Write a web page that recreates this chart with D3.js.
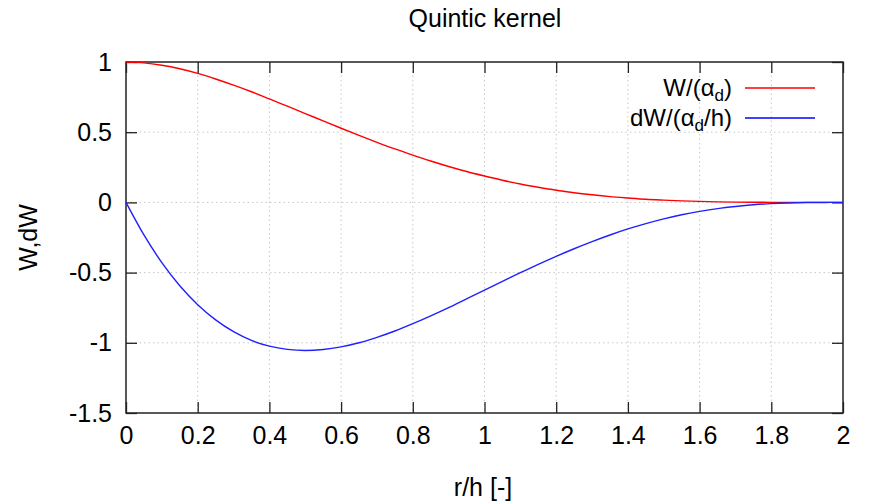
<!DOCTYPE html>
<html>
<head>
<meta charset="utf-8">
<script src="https://cdn.jsdelivr.net/npm/d3@7/dist/d3.min.js"></script>
<style>
  body { margin: 0; background: #fff; }
  text { font-family: "Liberation Sans", Arial, sans-serif; fill: #000; }
</style>
</head>
<body>
<svg id="chart"></svg>
<script>
// r/h sample positions
const rh = [0, 0.05, 0.1, 0.15, 0.2, 0.25, 0.3, 0.35, 0.4, 0.45, 0.5, 0.55, 0.6, 0.65, 0.7,
  0.75, 0.8, 0.85, 0.9, 0.95, 1.0, 1.05, 1.1, 1.15, 1.2, 1.25, 1.3, 1.35, 1.4, 1.45,
  1.5, 1.55, 1.6, 1.65, 1.7, 1.75, 1.8, 1.85, 1.9, 1.95, 2.0];

// W/(alpha_d)
const wValues = [1.000, 0.994, 0.977, 0.952, 0.919, 0.879, 0.835, 0.788, 0.737, 0.685,
  0.633, 0.580, 0.528, 0.477, 0.428, 0.381, 0.337, 0.295, 0.256, 0.220,
  0.188, 0.158, 0.131, 0.108, 0.087, 0.069, 0.054, 0.041, 0.031, 0.022,
  0.016, 0.011, 0.007, 0.004, 0.002, 0.001, 0.0005, 0.0002, 0.0, 0.0, 0.0];

// dW/(alpha_d/h)
const dwValues = [0.000, -0.232, -0.429, -0.594, -0.729, -0.837, -0.921, -0.983, -1.024, -1.047,
  -1.055, -1.048, -1.029, -1.000, -0.961, -0.916, -0.864, -0.808, -0.749, -0.687,
  -0.625, -0.563, -0.501, -0.441, -0.384, -0.330, -0.279, -0.232, -0.189, -0.151,
  -0.117, -0.088, -0.064, -0.044, -0.029, -0.017, -0.009, -0.004, -0.001, -0.0002, 0.0];

const xTicks = [0, 0.2, 0.4, 0.6, 0.8, 1, 1.2, 1.4, 1.6, 1.8, 2];
const yTicks = [-1.5, -1, -0.5, 0, 0.5, 1];

const chartTitle = "Quintic kernel";
const xTitle = "r/h [-]";
const yTitle = "W,dW";

function drawChart() {
  const size = { width: 870, height: 501 };
  const margin = { top: 62, left: 126, right: 27, bottom: 88 };
  const inner = {
    width: size.width - margin.left - margin.right,
    height: size.height - margin.top - margin.bottom
  };

  const svg = d3.select("#chart").attr("width", size.width).attr("height", size.height);
  const g = svg.append("g").attr("transform", `translate(${margin.left},${margin.top})`);

  const x = d3.scaleLinear().domain([0, 2]).range([0, inner.width]);
  const y = d3.scaleLinear().domain([-1.5, 1]).range([inner.height, 0]);

  // dotted grid
  g.append("g").selectAll("line")
    .data(xTicks.slice(1, -1))
    .join("line")
    .attr("x1", d => x(d)).attr("x2", d => x(d))
    .attr("y1", 0).attr("y2", inner.height)
    .attr("stroke", "#c8c8c8").attr("stroke-dasharray", "1.5,3");
  g.append("g").selectAll("line")
    .data(yTicks.slice(1, -1))
    .join("line")
    .attr("x1", 0).attr("x2", inner.width)
    .attr("y1", d => y(d)).attr("y2", d => y(d))
    .attr("stroke", "#c8c8c8").attr("stroke-dasharray", "1.5,3");

  // axes, ticks pointing inward on all four sides
  const tickLen = 11;
  const fmt = d => String(d);
  const styleAxis = (sel) => {
    sel.select(".domain").remove();
    sel.selectAll(".tick line").attr("stroke", "#222").attr("stroke-width", 1.3);
    sel.selectAll(".tick text").style("font-size", "25px").attr("fill", "#000");
  };

  g.append("g").attr("transform", `translate(0,${inner.height})`)
    .call(d3.axisBottom(x).tickValues(xTicks).tickFormat(fmt).tickSizeInner(-tickLen).tickSizeOuter(0).tickPadding(13))
    .call(styleAxis);
  g.append("g")
    .call(d3.axisTop(x).tickValues(xTicks).tickFormat("").tickSizeInner(-tickLen).tickSizeOuter(0))
    .call(styleAxis);
  g.append("g")
    .call(d3.axisLeft(y).tickValues(yTicks).tickFormat(fmt).tickSizeInner(-tickLen).tickSizeOuter(0).tickPadding(14))
    .call(styleAxis);
  g.append("g").attr("transform", `translate(${inner.width},0)`)
    .call(d3.axisRight(y).tickValues(yTicks).tickFormat("").tickSizeInner(-tickLen).tickSizeOuter(0))
    .call(styleAxis);

  // frame
  g.append("rect")
    .attr("width", inner.width).attr("height", inner.height)
    .attr("fill", "none").attr("stroke", "#222").attr("stroke-width", 1.5);

  // curves
  const line = d3.line().x((d, i) => x(rh[i])).y(d => y(d)).curve(d3.curveMonotoneX);
  g.append("path").datum(wValues).attr("d", line)
    .attr("fill", "none").attr("stroke", "#ff0000").attr("stroke-width", 1.4);
  g.append("path").datum(dwValues).attr("d", line)
    .attr("fill", "none").attr("stroke", "#2020ff").attr("stroke-width", 1.4);

  // legend
  const legend = [
    { parts: ["W/(α", "d", ")"], color: "#ff0000", cy: 26 },
    { parts: ["dW/(α", "d", "/h)"], color: "#0000ff", cy: 56 }
  ];
  legend.forEach(item => {
    const t = g.append("text")
      .attr("x", 606).attr("y", item.cy + 8)
      .attr("text-anchor", "end").style("font-size", "24px");
    t.append("tspan").text(item.parts[0]);
    t.append("tspan").attr("dy", 5).style("font-size", "17px").text(item.parts[1]);
    t.append("tspan").attr("dy", -5).text(item.parts[2]);
    g.append("line")
      .attr("x1", 619).attr("x2", 689)
      .attr("y1", item.cy).attr("y2", item.cy)
      .attr("stroke", item.color).attr("stroke-width", 1.4);
  });

  // titles
  svg.append("text")
    .attr("x", 485).attr("y", 27)
    .attr("text-anchor", "middle").style("font-size", "25px")
    .text(chartTitle);
  svg.append("text")
    .attr("x", 483).attr("y", 496)
    .attr("text-anchor", "middle").style("font-size", "25px")
    .text(xTitle);
  svg.append("text")
    .attr("transform", `translate(37,${margin.top + inner.height / 2}) rotate(-90)`)
    .attr("text-anchor", "middle").style("font-size", "25px")
    .text(yTitle);
}

drawChart();
</script>
</body>
</html>
